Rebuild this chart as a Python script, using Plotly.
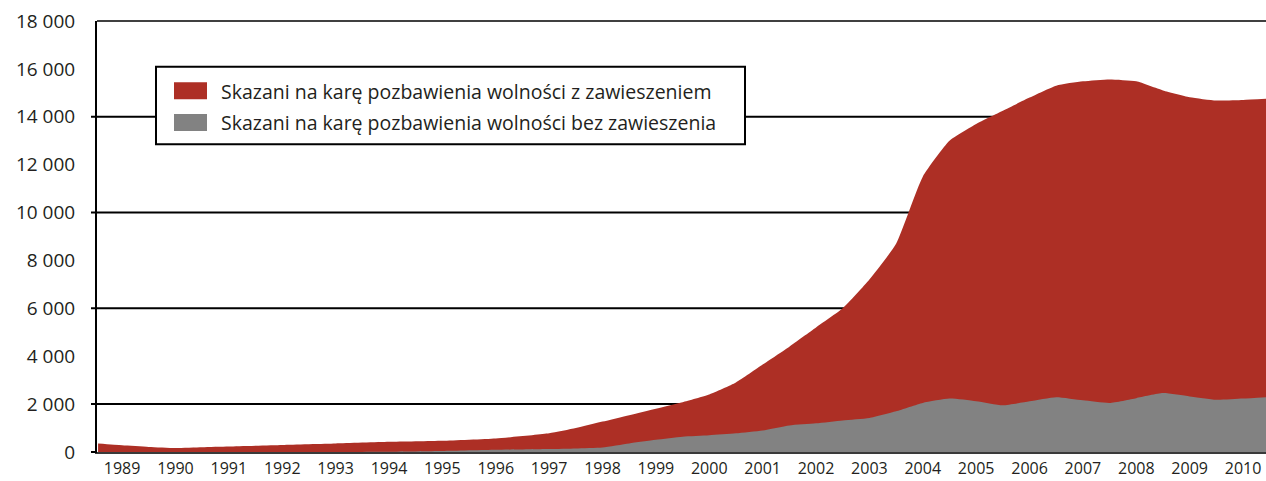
import plotly.graph_objects as go

# ---------------------------- DATA ----------------------------
years = [1988.55, 1989, 1989.5, 1990, 1990.5, 1991, 1992, 1993, 1994, 1995, 1996,
         1997, 1997.5, 1998, 1998.5, 1999, 1999.5, 2000, 2000.5, 2001, 2001.5,
         2002, 2002.5, 2003, 2003.5, 2004, 2004.5, 2005, 2005.5, 2006, 2006.5,
         2007, 2007.5, 2008, 2008.5, 2009, 2009.5, 2010, 2010.43]

# skazani z zawieszeniem (górna krawędź czerwonego obszaru)
suspended = [350, 280, 210, 165, 200, 230, 295, 355, 425, 470, 565,
             780, 1000, 1270, 1540, 1810, 2080, 2400, 2900, 3650, 4400,
             5200, 6000, 7200, 8700, 11500, 13000, 13700, 14250, 14800, 15300,
             15480, 15560, 15480, 15100, 14820, 14680, 14700, 14750]

# skazani bez zawieszenia (szary obszar)
unsuspended = [0, 0, 0, 0, 0, 0, 0, 0, 10, 40, 90,
               125, 150, 190, 360, 510, 640, 700, 780, 900, 1110,
               1200, 1320, 1420, 1700, 2050, 2230, 2120, 1950, 2120, 2290,
               2160, 2050, 2250, 2460, 2320, 2180, 2230, 2290]

year_ticks = list(range(1989, 2011))
y_ticks = list(range(0, 18001, 2000))
grid_values = [2000, 6000, 10000, 14000]

series_names = ["Skazani na karę pozbawienia wolności z zawieszeniem",
                "Skazani na karę pozbawienia wolności bez zawieszenia"]

RED = "#ad2f25"
GRAY = "#828282"
TXT = "#231f20"

# ---------------------------- LAYOUT HELPERS ----------------------------
W, H = 1266, 481
L, R, T, B = 97, 0, 21, 29


def pxx(x):
    return (x - L) / (W - L - R)


def pxy(y):
    return 1 - (y - T) / (H - T - B)


fig = go.Figure()

fig.add_trace(go.Scatter(x=years, y=suspended, mode="lines", fill="tozeroy",
                         fillcolor=RED, line=dict(width=0, color=RED, shape="spline", smoothing=0.5),
                         name=series_names[0], hoverinfo="skip"))
fig.add_trace(go.Scatter(x=years, y=unsuspended, mode="lines", fill="tozeroy",
                         fillcolor=GRAY, line=dict(width=0, color=GRAY, shape="spline", smoothing=0.5),
                         name=series_names[1], hoverinfo="skip"))

shapes = []
# gridlines (behind the areas) with small tick stubs left of the axis
for v in grid_values:
    shapes.append(dict(type="line", xref="paper", yref="y", x0=pxx(91), x1=1,
                       y0=v, y1=v, line=dict(color="black", width=2), layer="below"))
# top border
shapes.append(dict(type="line", xref="paper", yref="paper", x0=0, x1=1, y0=1, y1=1,
                   line=dict(color="black", width=1.5)))
# zero tick stub
shapes.append(dict(type="line", xref="paper", yref="paper", x0=pxx(91), x1=0, y0=0, y1=0,
                   line=dict(color="black", width=2)))

# legend box
shapes.append(dict(type="rect", xref="paper", yref="paper",
                   x0=pxx(156), x1=pxx(745), y0=pxy(66.7), y1=pxy(144.3),
                   fillcolor="white", line=dict(color="black", width=2)))
for i, c in enumerate([RED, GRAY]):
    top = 82.3 + i * 31.7
    shapes.append(dict(type="rect", xref="paper", yref="paper",
                       x0=pxx(174), x1=pxx(207), y0=pxy(top), y1=pxy(top + 17),
                       fillcolor=c, line=dict(width=0)))

annotations = []
for i, name in enumerate(series_names):
    annotations.append(dict(text=name, xref="paper", yref="paper",
                            x=pxx(219), y=pxy(91.5 + i * 31.5),
                            xanchor="left", yanchor="middle", showarrow=False,
                            font=dict(family="Open Sans", size=19.5, color=TXT)))

fig.update_layout(
    width=W, height=H,
    margin=dict(l=L, r=R, t=T, b=B),
    plot_bgcolor="white", paper_bgcolor="white",
    showlegend=False,
    shapes=shapes,
    annotations=annotations,
    xaxis=dict(range=[1988.53, 2010.43], tickvals=year_ticks,
               ticktext=[str(y) for y in year_ticks],
               showgrid=False, zeroline=False, ticks="",
               showline=True, linecolor="#3a3a3a", linewidth=2,
               ticklabelstandoff=1, automargin=False,
               tickfont=dict(family="Open Sans", size=16, color=TXT)),
    yaxis=dict(range=[0, 18000], tickvals=y_ticks,
               ticktext=[f"{v:,}".replace(",", " ") for v in y_ticks],
               showgrid=False, zeroline=False, ticks="",
               showline=True, linecolor="black", linewidth=2,
               ticklabelstandoff=16, automargin=False,
               tickfont=dict(family="Open Sans", size=19, color=TXT)),
)

# page body has a default margin; drop it so the figure fills the window
fig.write_html("out.html", config={"displayModeBar": False},
               post_script="document.body.style.margin='0';")
